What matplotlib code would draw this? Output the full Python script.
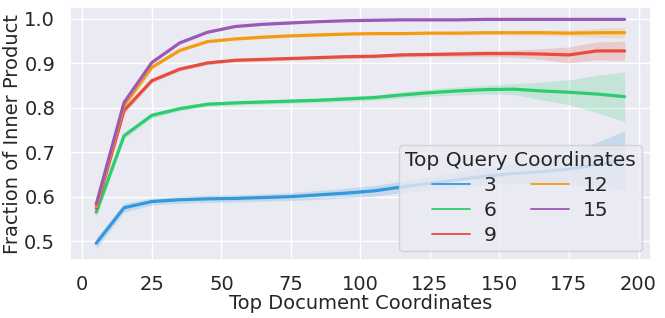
import numpy as np
import matplotlib
matplotlib.use("Agg")
import matplotlib.pyplot as plt
import seaborn as sns

sns.set_theme(style="darkgrid")
plt.rcParams['font.family'] = ['DejaVu Sans']

doc_coords = [5, 15, 25, 35, 45, 55, 65, 75, 85, 95, 105, 115, 125, 135, 145, 155, 165, 175, 185, 195]
query_coords = ["3", "6", "9", "12", "15"]
colors = ["#3498db", "#2ecc71", "#e74c3c", "#f39c12", "#9b59b6"]

frac_3 = [0.495, 0.575, 0.589, 0.593, 0.595, 0.596, 0.598, 0.600, 0.604, 0.608,
          0.613, 0.622, 0.630, 0.638, 0.646, 0.652, 0.656, 0.662, 0.672, 0.682]
frac_6 = [0.565, 0.737, 0.783, 0.798, 0.808, 0.811, 0.813, 0.815, 0.817, 0.820,
          0.823, 0.829, 0.834, 0.838, 0.841, 0.842, 0.838, 0.835, 0.831, 0.825]
frac_9 = [0.574, 0.794, 0.861, 0.887, 0.901, 0.907, 0.909, 0.911, 0.913, 0.915,
          0.916, 0.919, 0.920, 0.921, 0.922, 0.922, 0.921, 0.919, 0.928, 0.928]
frac_12 = [0.578, 0.805, 0.891, 0.929, 0.949, 0.955, 0.959, 0.962, 0.964, 0.966,
           0.967, 0.967, 0.968, 0.968, 0.969, 0.969, 0.969, 0.968, 0.969, 0.969]
frac_15 = [0.583, 0.812, 0.902, 0.946, 0.970, 0.983, 0.988, 0.991, 0.994, 0.996,
           0.997, 0.998, 0.998, 0.998, 0.999, 0.999, 0.999, 0.999, 0.999, 0.999]

# confidence band half-widths
ci_3 = [0.012, 0.010, 0.008, 0.008, 0.008, 0.008, 0.008, 0.009, 0.010, 0.011,
        0.012, 0.013, 0.015, 0.017, 0.020, 0.022, 0.025, 0.035, 0.050, 0.066]
ci_6 = [0.012, 0.007, 0.006, 0.005, 0.005, 0.005, 0.005, 0.005, 0.005, 0.006,
        0.006, 0.007, 0.008, 0.009, 0.010, 0.012, 0.020, 0.028, 0.042, 0.056]
ci_9 = [0.008, 0.007, 0.005, 0.004, 0.004, 0.004, 0.004, 0.004, 0.004, 0.004,
        0.004, 0.005, 0.005, 0.006, 0.007, 0.008, 0.012, 0.018, 0.020, 0.022]
ci_12 = [0.006, 0.005, 0.004, 0.003, 0.003, 0.003, 0.003, 0.003, 0.003, 0.003,
         0.003, 0.003, 0.003, 0.004, 0.004, 0.005, 0.006, 0.007, 0.010, 0.012]
ci_15 = [0.005, 0.004, 0.003, 0.002, 0.002, 0.002, 0.002, 0.002, 0.002, 0.002,
         0.002, 0.002, 0.002, 0.002, 0.002, 0.002, 0.002, 0.002, 0.002, 0.002]

series = [frac_3, frac_6, frac_9, frac_12, frac_15]
cis = [ci_3, ci_6, ci_9, ci_12, ci_15]

fig, ax = plt.subplots(figsize=(6.65, 3.18), dpi=100)
x = np.array(doc_coords)
for label, vals, ci, c in zip(query_coords, series, cis, colors):
    v = np.array(vals)
    e = np.array(ci)
    ax.fill_between(x, v - e, v + e, color=c, alpha=0.2, linewidth=0)
    ax.plot(x, v, color=c, linewidth=2.3, label=label)

ax.set_xticks([0, 25, 50, 75, 100, 125, 150, 175, 200])
ax.set_yticks([0.5, 0.6, 0.7, 0.8, 0.9, 1.0])
ax.tick_params(labelsize=14, pad=4.5)
ax.set_xlabel("Top Document Coordinates", fontsize=14, labelpad=0)
ax.set_ylabel("Fraction of Inner Product", fontsize=14, labelpad=1.5)

leg = ax.legend(title="Top Query Coordinates", ncol=2, loc="lower right",
                fontsize=14.6, title_fontsize=14.6, handlelength=1.85,
                handletextpad=0.7, columnspacing=1.7, labelspacing=0.3,
                borderpad=0.3, borderaxespad=0.45)
for h in leg.get_lines():
    h.set_linewidth(1.3)

plt.subplots_adjust(left=0.105, right=0.979, top=0.978, bottom=0.182)
plt.savefig("out.png", dpi=100)
